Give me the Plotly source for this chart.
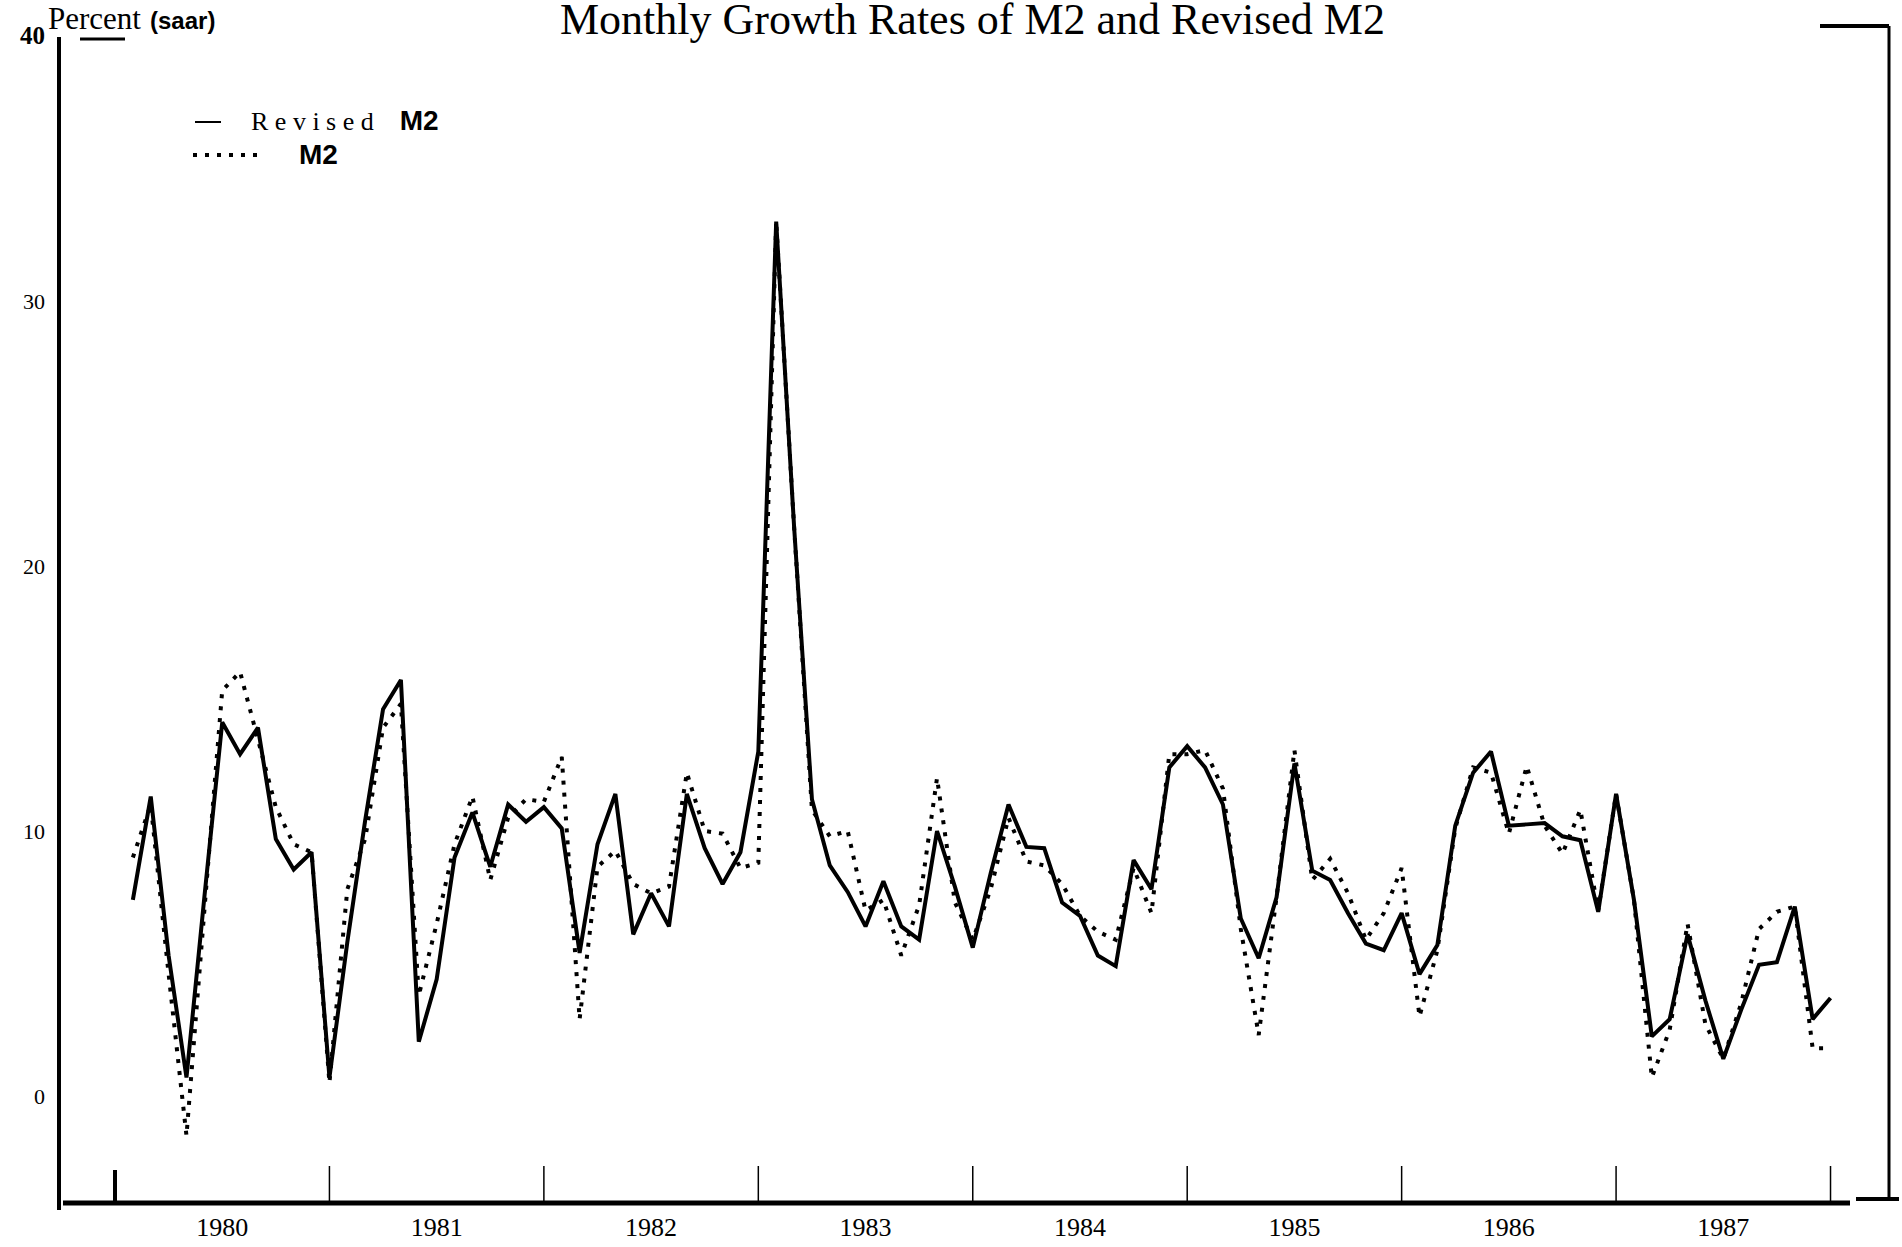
import plotly.graph_objects as go

# ---------------- data ----------------
# month index: 1 = Jan 1980 ... 96 = Dec 1987
months = list(range(1, 97))

revised_m2 = [
    7.4, 11.3, 5.3, 0.7, 7.5, 14.1, 12.9, 13.9, 9.7, 8.55, 9.2, 0.7,      # 1980
    5.8, 10.4, 14.6, 15.7, 2.05, 4.4, 9.0, 10.7, 8.65, 11.0, 10.35, 10.9,  # 1981
    10.1, 5.4, 9.5, 11.4, 6.1, 7.65, 6.4, 11.4, 9.35, 8.0, 9.2, 13.0,     # 1982
    33.0, 21.5, 11.2, 8.7, 7.7, 6.4, 8.1, 6.4, 5.9, 10.0, 7.9, 5.6,       # 1983
    8.4, 11.0, 9.4, 9.35, 7.3, 6.8, 5.3, 4.9, 8.9, 7.8, 12.4, 13.2,       # 1984
    12.4, 11.0, 6.7, 5.2, 7.5, 12.55, 8.5, 8.15, 6.9, 5.75, 5.5, 6.9,     # 1985
    4.6, 5.7, 10.2, 12.2, 13.0, 10.2, 10.25, 10.3, 9.8, 9.65, 6.95, 11.4, # 1986
    7.4, 2.25, 2.9, 6.1, 3.6, 1.4, 3.25, 4.95, 5.05, 7.15, 2.9, 3.7,      # 1987
]

m2 = [
    9.0, 11.0, 4.6, -1.5, 7.0, 15.3, 16.0, 13.5, 10.9, 9.5, 9.2, 0.5,     # 1980
    7.8, 9.7, 13.9, 14.8, 3.8, 6.5, 9.5, 11.3, 8.15, 10.5, 11.2, 11.1,    # 1981
    12.8, 2.9, 8.65, 9.25, 8.0, 7.65, 7.9, 12.2, 10.0, 9.9, 8.6, 8.8,     # 1982
    33.0, 21.5, 10.8, 9.8, 10.0, 7.0, 7.4, 5.3, 7.2, 12.0, 7.3, 5.9,      # 1983
    7.8, 10.5, 8.85, 8.7, 8.0, 6.8, 6.2, 5.9, 8.6, 6.9, 12.9, 12.9,       # 1984
    13.05, 11.6, 6.3, 2.3, 7.5, 13.05, 8.15, 8.95, 7.65, 5.9, 6.9, 8.6,   # 1985
    3.0, 5.5, 10.1, 12.4, 12.2, 9.9, 12.45, 10.2, 9.15, 10.8, 7.0, 11.4,  # 1986
    7.4, 0.7, 2.5, 6.5, 2.7, 1.4, 3.5, 6.3, 6.95, 7.15, 1.8, 1.8,         # 1987
]

year_labels = ["1980", "1981", "1982", "1983", "1984", "1985", "1986", "1987"]
year_label_pos = [6, 18, 30, 42, 54, 66, 78, 90]
year_bounds = [0, 12, 24, 36, 48, 60, 72, 84, 96]

y_tick_vals = [0, 10, 20, 30, 40]
y_tick_text = ["0", "10", "20", "30", "<span style='font-size:25px'><b>40</b></span>"]

# ---------------- layout helpers (pixel -> paper) ----------------
W, H = 1902, 1247
PL, PR, PT, PB = 60, 1889, 36, 1203


def fx(px):
    return (px - PL) / (PR - PL)


def fy(py):
    return (PB - py) / (PB - PT)


SERIF = "Liberation Serif, Times New Roman, serif"
SANS = "Liberation Sans, Arial, sans-serif"
DOT = "4px,8px"

fig = go.Figure()
fig.add_trace(go.Scatter(x=months, y=m2, mode="lines", name="M2",
                         line=dict(color="black", width=4, dash=DOT)))
fig.add_trace(go.Scatter(x=months, y=revised_m2, mode="lines", name="Revised M2",
                         line=dict(color="black", width=4)))

shapes = []
# axis frame pieces (as in the scanned original)
shapes.append(dict(type="line", xref="paper", yref="paper", x0=fx(59), x1=fx(59),
                   y0=fy(37), y1=fy(1210), line=dict(color="black", width=4)))
shapes.append(dict(type="line", xref="paper", yref="paper", x0=fx(63), x1=fx(1850),
                   y0=fy(1203), y1=fy(1203), line=dict(color="black", width=5)))
shapes.append(dict(type="line", xref="paper", yref="paper", x0=fx(1856), x1=fx(1899),
                   y0=fy(1199), y1=fy(1199), line=dict(color="black", width=4)))
shapes.append(dict(type="line", xref="paper", yref="paper", x0=fx(1889), x1=fx(1889),
                   y0=fy(26), y1=fy(1199), line=dict(color="black", width=3)))
shapes.append(dict(type="line", xref="paper", yref="paper", x0=fx(1820), x1=fx(1889),
                   y0=fy(26), y1=fy(26), line=dict(color="black", width=4)))
shapes.append(dict(type="line", xref="paper", yref="paper", x0=fx(80), x1=fx(125),
                   y0=fy(39), y1=fy(39), line=dict(color="black", width=3)))
# year boundary ticks
for i, b in enumerate(year_bounds):
    shapes.append(dict(type="line", xref="x", yref="paper", x0=b, x1=b,
                       y0=fy(1203), y1=fy(1170 if i == 0 else 1166),
                       line=dict(color="black", width=4 if i == 0 else 1.5)))
# legend samples
shapes.append(dict(type="line", xref="paper", yref="paper", x0=fx(195), x1=fx(221),
                   y0=fy(122), y1=fy(122), line=dict(color="black", width=2)))
shapes.append(dict(type="line", xref="paper", yref="paper", x0=fx(193), x1=fx(260),
                   y0=fy(155), y1=fy(155), line=dict(color="black", width=4, dash=DOT)))

sp = "\u2005"
annotations = [
    dict(text="Monthly Growth Rates of M2 and Revised M2", xref="paper", yref="paper",
         x=fx(972), y=fy(20), xanchor="center", yanchor="middle", showarrow=False,
         font=dict(family=SERIF, size=44, color="black")),
    dict(text="Percent", xref="paper", yref="paper", x=fx(46), y=fy(19),
         xanchor="left", yanchor="middle", showarrow=False,
         font=dict(family=SERIF, size=31, color="black")),
    dict(text="<b>(saar)</b>", xref="paper", yref="paper", x=fx(148), y=fy(21),
         xanchor="left", yanchor="middle", showarrow=False,
         font=dict(family=SANS, size=24, color="black")),
    dict(text=sp.join("Revised") + "\u2002\u2002<span style='font-family:Liberation Sans;font-size:28px'><b>M2</b></span>",
         xref="paper", yref="paper", x=fx(249), y=fy(121),
         xanchor="left", yanchor="middle", showarrow=False,
         font=dict(family=SERIF, size=26, color="black")),
    dict(text="<b>M2</b>", xref="paper", yref="paper", x=fx(297), y=fy(155),
         xanchor="left", yanchor="middle", showarrow=False,
         font=dict(family=SANS, size=28, color="black")),
]

fig.update_layout(
    width=W, height=H,
    margin=dict(l=PL, r=W - PR, t=PT, b=H - PB, pad=0),
    paper_bgcolor="white", plot_bgcolor="white",
    showlegend=False,
    shapes=shapes,
    annotations=annotations,
    xaxis=dict(range=[(PL - 115) / 17.87, (PR - 115) / 17.87], showline=False,
               showgrid=False, zeroline=False, ticks="", automargin=False,
               tickvals=year_label_pos, ticktext=year_labels,
               ticklabelstandoff=6,
               tickfont=dict(family=SERIF, size=26, color="black")),
    yaxis=dict(range=[(1096 - PB) / 26.5, (1096 - PT) / 26.5], showline=False,
               showgrid=False, zeroline=False, ticks="", automargin=False,
               tickvals=y_tick_vals, ticktext=y_tick_text,
               ticklabelstandoff=14,
               tickfont=dict(family=SERIF, size=22, color="black")),
)

fig.write_html(
    "out.html",
    config={"displayModeBar": False},
    post_script="document.body.style.margin='0px';document.body.style.overflow='hidden';",
)
